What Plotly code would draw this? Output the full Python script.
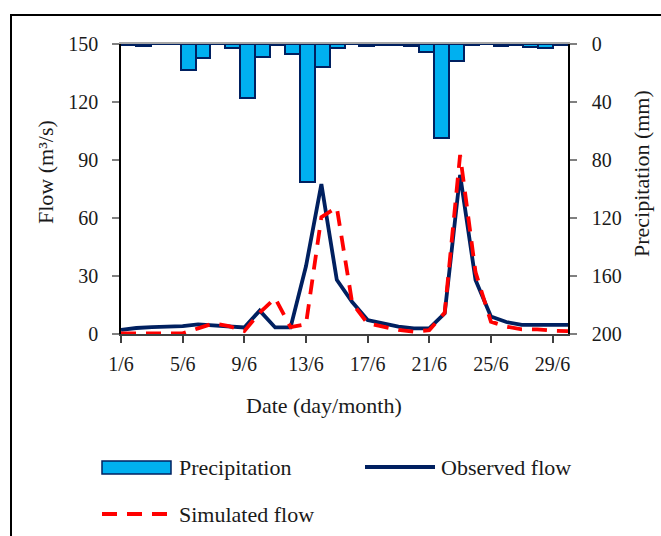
import plotly.graph_objects as go

days = list(range(1, 31))
tick_days = [1, 5, 9, 13, 17, 21, 25, 29]
tick_text = ["1/6", "5/6", "9/6", "13/6", "17/6", "21/6", "25/6", "29/6"]

precip = [1, 1.5, 0, 0, 18, 9.5, 0, 3, 37, 9, 1, 7, 95, 16, 2.5,
          0, 1.5, 0.5, 0.5, 1.5, 5.5, 65, 12, 0.4, 0, 1.2, 0.4, 2, 3, 0.4]

observed = [2.1, 3.1, 3.6, 3.9, 4.1, 5.0, 4.5, 4.1, 3.4, 12.1, 3.4, 3.4, 35, 77.5, 28,
            16.5, 7.2, 5.5, 3.8, 2.9, 2.9, 10.7, 82.3, 27.9, 9.0, 6.2, 4.7, 4.7, 4.7, 4.7]

simulated = [0.3, 0.3, 0.3, 0.3, 0.3, 2.9, 5.5, 4.1, 1.5, 11, 18.5, 3.5, 5.0, 60.5, 65.5,
             16.0, 5.5, 3.8, 2.1, 1.2, 2.0, 11.0, 92.6, 32.0, 6.4, 3.8, 2.4, 2.4, 1.7, 1.5]

NAVY = "#002060"
BLUE = "#00B0F0"
RED = "#FF0000"
FONT = "Liberation Serif"
TXT = "#1a1a1a"

fig = go.Figure()
fig.add_trace(go.Bar(x=days, y=precip, xaxis="x2", yaxis="y2", name="Precipitation",
                     marker=dict(color=BLUE, line=dict(color=NAVY, width=2)),
                     width=1.0, showlegend=False))
fig.add_trace(go.Scatter(x=days, y=observed, mode="lines", name="Observed flow",
                         line=dict(color=NAVY, width=3.8), showlegend=False))
fig.add_trace(go.Scatter(x=days, y=simulated, mode="lines", name="Simulated flow",
                         line=dict(color=RED, width=3.8, dash="15px,10px"), showlegend=False))

axis_common = dict(showgrid=False, zeroline=False, tickfont=dict(family=FONT, size=20, color=TXT))

fig.update_layout(
    width=661, height=536,
    margin=dict(l=121, r=93, t=44, b=202),
    paper_bgcolor="white", plot_bgcolor="white",
    bargap=0,
    xaxis=dict(range=[1, 30], tickvals=tick_days, ticktext=tick_text,
               showline=True, linecolor="#404040", linewidth=1.5,
               ticks="outside", ticklen=7, tickcolor="#404040", tickwidth=1.5,
               ticklabelstandoff=4, **axis_common),
    xaxis2=dict(range=[0.5, 30.5], overlaying="x", anchor="y", side="top",
                showline=True, linecolor="#A6A6A6", linewidth=1.5,
                showticklabels=False, ticks="", showgrid=False, zeroline=False),
    yaxis=dict(range=[0, 150], tickvals=[0, 30, 60, 90, 120, 150],
               showline=True, linecolor="black", linewidth=1.5,
               ticks="outside", ticklen=7, tickcolor="#808080", tickwidth=1.5,
               ticklabelstandoff=10, **axis_common),
    yaxis2=dict(range=[200, 0], tickvals=[0, 40, 80, 120, 160, 200],
                overlaying="y", side="right", anchor="x",
                showline=True, linecolor="black", linewidth=1.5,
                ticks="outside", ticklen=7, tickcolor="#808080", tickwidth=1.5,
                ticklabelstandoff=11, **axis_common),
)

W, H = 447.0, 290.0
def px(x):
    return (x - 121) / W
def py(y):
    return (334 - y) / H

shapes = [
    dict(type="rect", xref="paper", yref="paper", x0=px(11), x1=px(700), y0=py(600), y1=py(15),
         line=dict(color="black", width=2), fillcolor="rgba(0,0,0,0)", layer="below"),
    dict(type="rect", xref="paper", yref="paper", x0=px(102), x1=px(171), y0=py(474), y1=py(461),
         line=dict(color=NAVY, width=1.5), fillcolor=BLUE),
    dict(type="line", xref="paper", yref="paper", x0=px(365), x1=px(435), y0=py(467), y1=py(467),
         line=dict(color=NAVY, width=3.8)),
    dict(type="line", xref="paper", yref="paper", x0=px(102), x1=px(171), y0=py(514), y1=py(514),
         line=dict(color=RED, width=3.8, dash="15px,10px")),
]

tf = dict(family=FONT, size=22, color=TXT)
annotations = [
    dict(text="Flow (m³/s)", xref="paper", yref="paper", x=px(45), y=py(172),
         textangle=-90, showarrow=False, font=tf, xanchor="center", yanchor="middle"),
    dict(text="Precipitation (mm)", xref="paper", yref="paper", x=px(641), y=py(174),
         textangle=-90, showarrow=False, font=tf, xanchor="center", yanchor="middle"),
    dict(text="Date (day/month)", xref="paper", yref="paper", x=px(324), y=py(405),
         showarrow=False, font=tf, xanchor="center", yanchor="middle"),
    dict(text="Precipitation", xref="paper", yref="paper", x=px(177), y=py(467),
         showarrow=False, font=tf, xanchor="left", yanchor="middle"),
    dict(text="Observed flow", xref="paper", yref="paper", x=px(439), y=py(467),
         showarrow=False, font=tf, xanchor="left", yanchor="middle"),
    dict(text="Simulated flow", xref="paper", yref="paper", x=px(177), y=py(514),
         showarrow=False, font=tf, xanchor="left", yanchor="middle"),
]

fig.update_layout(shapes=shapes, annotations=annotations)
fig.write_html("out.html")
